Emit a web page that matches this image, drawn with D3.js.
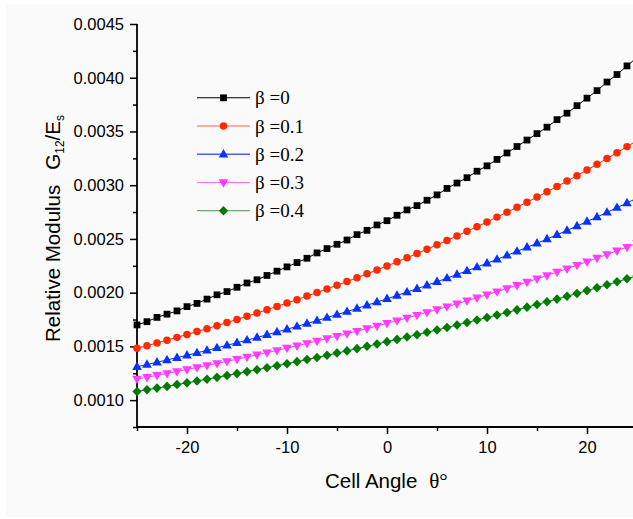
<!DOCTYPE html>
<html>
<head>
<meta charset="utf-8">
<script src="https://cdn.jsdelivr.net/npm/d3@7"></script>
<style>
  html, body { margin: 0; padding: 0; background: #ffffff; }
  svg { display: block; }
</style>
</head>
<body>
<svg id="chart" width="633" height="519"></svg>
<script>
// ---------- data ----------
const angles = d3.range(-25, 26); // cell angle θ, degrees (-25 … 25)

const beta0 = [0.00170,0.00173,0.00177,0.00180,0.00183,0.00187,0.00190,0.00194,0.00198,0.00201,
               0.00205,0.00209,0.00212,0.00216,0.00220,0.00224,0.00228,0.00232,0.00237,0.00241,
               0.00245,0.00249,0.00254,0.00258,0.00263,0.00267,0.00272,0.00277,0.00281,0.00286,
               0.00291,0.00297,0.00302,0.00307,0.00313,0.00318,0.00324,0.00330,0.00336,0.00342,
               0.00348,0.00354,0.00361,0.00367,0.00374,0.00381,0.00388,0.00396,0.00403,0.00411,0.00419];

const beta01 = [0.001482,0.001507,0.001532,0.001558,0.001584,0.001611,0.001638,0.001665,0.001693,0.001722,
                0.001751,0.001780,0.001810,0.001841,0.001872,0.001903,0.001935,0.001968,0.002001,0.002035,
                0.002069,0.002104,0.002139,0.002175,0.002212,0.002249,0.002287,0.002325,0.002364,0.002404,
                0.002445,0.002486,0.002528,0.002571,0.002614,0.002658,0.002703,0.002748,0.002795,0.002842,
                0.002890,0.002938,0.002988,0.003038,0.003089,0.003141,0.003194,0.003248,0.003303,0.003359,0.003415];

const beta02 = [0.001310,0.001331,0.001352,0.001374,0.001395,0.001418,0.001440,0.001463,0.001486,0.001510,
                0.001534,0.001558,0.001583,0.001608,0.001634,0.001660,0.001686,0.001713,0.001740,0.001768,
                0.001796,0.001824,0.001853,0.001883,0.001913,0.001943,0.001974,0.002005,0.002037,0.002069,
                0.002102,0.002135,0.002169,0.002203,0.002238,0.002274,0.002310,0.002347,0.002384,0.002422,
                0.002460,0.002499,0.002539,0.002579,0.002620,0.002662,0.002704,0.002747,0.002791,0.002835,0.002880];

const beta03 = [0.001196,0.001213,0.001231,0.001249,0.001267,0.001285,0.001304,0.001323,0.001342,0.001361,
                0.001381,0.001401,0.001422,0.001442,0.001463,0.001485,0.001506,0.001528,0.001550,0.001573,
                0.001596,0.001619,0.001642,0.001666,0.001690,0.001715,0.001740,0.001765,0.001791,0.001817,
                0.001843,0.001870,0.001897,0.001925,0.001953,0.001981,0.002010,0.002039,0.002069,0.002099,
                0.002129,0.002160,0.002192,0.002223,0.002256,0.002288,0.002322,0.002355,0.002390,0.002424,0.002460];

const beta04 = [0.001081,0.001097,0.001112,0.001128,0.001145,0.001161,0.001178,0.001195,0.001212,0.001229,
                0.001247,0.001265,0.001283,0.001301,0.001320,0.001339,0.001358,0.001378,0.001397,0.001417,
                0.001438,0.001458,0.001479,0.001501,0.001522,0.001544,0.001565,0.001587,0.001609,0.001631,
                0.001653,0.001676,0.001699,0.001723,0.001746,0.001769,0.001792,0.001816,0.001840,0.001865,
                0.001890,0.001915,0.001940,0.001966,0.001992,0.002019,0.002046,0.002073,0.002101,0.002129,0.002157];

const seriesNames = ["β =0", "β =0.1", "β =0.2", "β =0.3", "β =0.4"];
const seriesValues = [beta0, beta01, beta02, beta03, beta04];

const xMajorTicks = [-20, -10, 0, 10, 20];
const xMinorTicks = [-25, -15, -5, 5, 15, 25];
const yMajorTicks = [0.0010, 0.0015, 0.0020, 0.0025, 0.0030, 0.0035, 0.0040, 0.0045];
const yMinorTicks = [0.00075, 0.00125, 0.00175, 0.00225, 0.00275, 0.00325, 0.00375, 0.00425];

const xTitle = "Cell Angle";
const yTitle = "Relative Modulus";

// ---------- styles ----------
const colors  = ["#000000", "#ff2a00", "#0a32ff", "#ff3cff", "#007a00"];
const shapes  = ["square", "circle", "triangle", "triangleDown", "diamond"];

const svg = d3.select("#chart");
svg.append("rect").attr("x", 6).attr("y", 4).attr("width", 627).attr("height", 513).attr("fill", "#fafafa");

const x = d3.scaleLinear().domain([-25, 25]).range([137, 637]);
const y = d3.scaleLinear().domain([0.00075, 0.0045]).range([427, 24]);

function markerPath(shape) {
  switch (shape) {
    case "square":   return d3.symbol(d3.symbolSquare, 46)();
    case "circle":   return d3.symbol(d3.symbolCircle, 44)();
    case "triangle": return "M0,-5.2L4.8,3.2L-4.8,3.2Z";
    case "triangleDown": return "M0,5.2L4.8,-3.2L-4.8,-3.2Z";
    case "diamond":  return "M0,-4.8L4.6,0L0,4.8L-4.6,0Z";
  }
}

// ---------- axes ----------
const axisFont = "'Liberation Sans', Arial, sans-serif";

const gx = svg.append("g").attr("transform", "translate(0,427)");
gx.call(d3.axisBottom(x).tickValues(xMajorTicks).tickSize(7).tickPadding(7).tickFormat(d => String(d)));
gx.append("g").call(d3.axisBottom(x).tickValues(xMinorTicks).tickSize(4).tickFormat(""))
  .select(".domain").remove();

const gy = svg.append("g").attr("transform", "translate(137,0)");
gy.call(d3.axisLeft(y).tickValues(yMajorTicks).tickSize(7).tickPadding(6).tickFormat(d => d.toFixed(4)));
gy.append("g").call(d3.axisLeft(y).tickValues(yMinorTicks).tickSize(4).tickFormat(""))
  .select(".domain").remove();

[gx, gy].forEach(g => {
  g.selectAll(".domain").attr("stroke", "#000").attr("stroke-width", 1.8);
  g.selectAll(".tick line").attr("stroke", "#000").attr("stroke-width", 1.5);
  g.selectAll(".tick text").attr("fill", "#000").style("font-family", axisFont).style("font-size", "16.5px");
});
gx.select(".domain").attr("d", "M137,0H637");
gy.select(".domain").attr("d", "M0,24V427.9");

// ---------- series ----------
const line = d3.line().x(d => x(d[0])).y(d => y(d[1]));

seriesValues.forEach((vals, i) => {
  const pts = angles.map((a, j) => [a, vals[j]]);
  const g = svg.append("g");
  g.append("path").datum(pts).attr("d", line)
    .attr("fill", "none").attr("stroke", colors[i]).attr("stroke-width", 1);
  g.selectAll("path.m").data(pts).enter().append("path").attr("class", "m")
    .attr("d", markerPath(shapes[i]))
    .attr("transform", d => `translate(${x(d[0])},${y(d[1])})`)
    .attr("fill", colors[i]);
});

// ---------- legend ----------
const legend = svg.append("g");
const legY = d3.scaleLinear().domain([0, 4]).range([97.8, 210.8]);
seriesNames.forEach((name, i) => {
  const yy = legY(i);
  legend.append("line").attr("x1", 197).attr("x2", 250).attr("y1", yy).attr("y2", yy)
    .attr("stroke", colors[i]).attr("stroke-width", i === 2 ? 1.6 : 1.1).attr("stroke-opacity", i === 0 ? 1 : 0.75);
  legend.append("path").attr("d", markerPath(shapes[i]))
    .attr("transform", `translate(223.5,${yy})`).attr("fill", colors[i]);
  legend.append("text").attr("x", 255).attr("y", yy + 6.5)
    .style("font-family", "'Liberation Serif', 'Times New Roman', serif").style("font-size", "19px")
    .attr("fill", "#000").text(name);
});

// ---------- axis titles ----------
const xt = svg.append("text").attr("x", 325).attr("y", 488)
  .style("font-family", axisFont).style("font-size", "20.5px").attr("fill", "#000");
xt.append("tspan").text(xTitle);
xt.append("tspan").attr("dx", 12).style("font-family", "'Liberation Serif', 'Times New Roman', serif")
  .style("font-size", "21px").text("θ°");

const yt = svg.append("text").attr("transform", "translate(60,342) rotate(-90)")
  .style("font-family", axisFont).style("font-size", "20.5px").attr("fill", "#000");
yt.append("tspan").text(yTitle);
yt.append("tspan").attr("dx", 15).text("G");
yt.append("tspan").attr("dy", 4).style("font-size", "12px").text("12");
yt.append("tspan").attr("dy", -4).text("/E");
yt.append("tspan").attr("dy", 4).style("font-size", "12px").text("s");
</script>
</body>
</html>
